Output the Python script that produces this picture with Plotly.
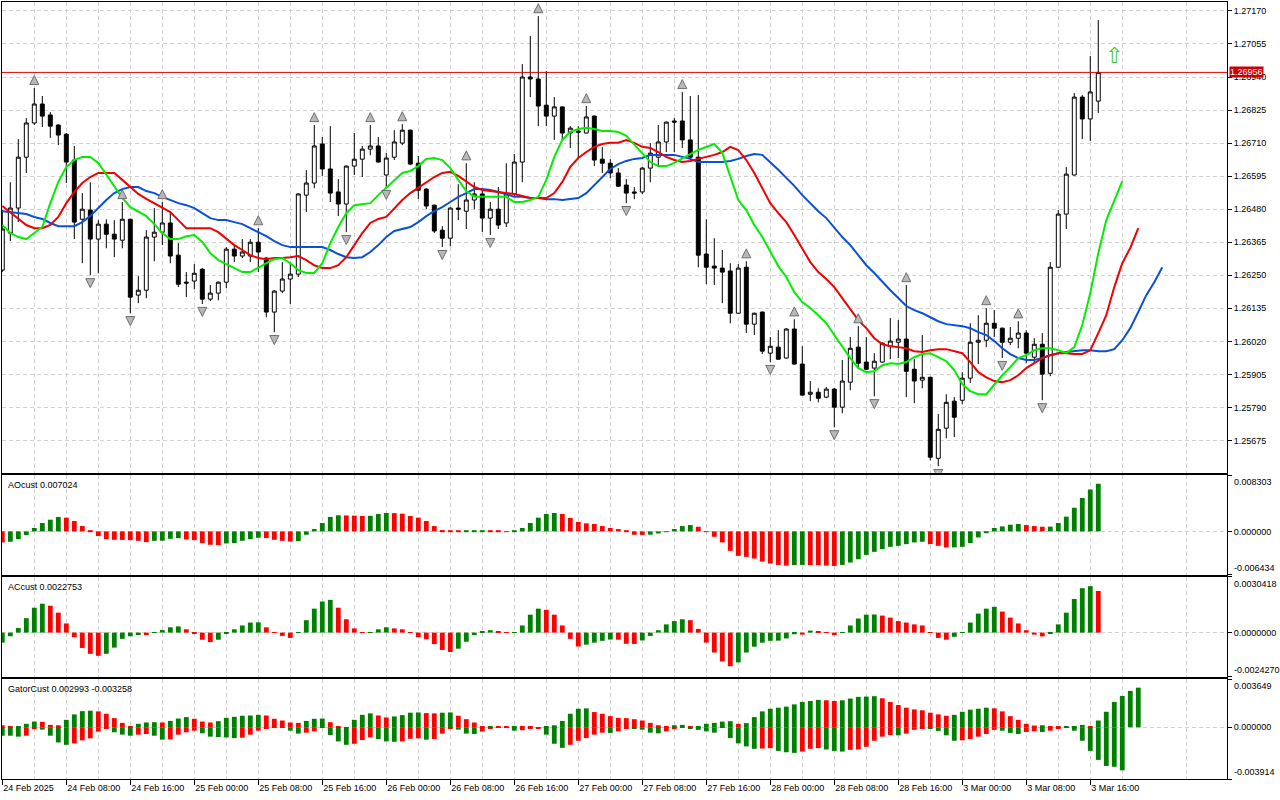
import numpy as np
import plotly.graph_objects as go
from plotly.subplots import make_subplots

# H1 bars, 24 Feb 2025 00:00 -> 3 Mar 2025 17:00 (bar index 0..137)
opens = [1.26268, 1.26397, 1.26484, 1.26661, 1.26780, 1.26846, 1.26808, 1.26773, 1.26741, 1.26651,
         1.26445, 1.26477, 1.26376, 1.26428, 1.26393, 1.26372, 1.26445, 1.26181, 1.26198, 1.26383,
         1.26400, 1.26432, 1.26320, 1.26226, 1.26230, 1.26271, 1.26167, 1.26188, 1.26226, 1.26341,
         1.26317, 1.26317, 1.26365, 1.26310, 1.26122, 1.26195, 1.26237, 1.26254, 1.26529, 1.26571,
         1.26707, 1.26620, 1.26540, 1.26498, 1.26630, 1.26654, 1.26689, 1.26700, 1.26599, 1.26661,
         1.26710, 1.26755, 1.26640, 1.26550, 1.26494, 1.26407, 1.26379, 1.26484, 1.26473, 1.26512,
         1.26533, 1.26449, 1.26480, 1.26432, 1.26533, 1.26644, 1.26940, 1.26933, 1.26842, 1.26804,
         1.26836, 1.26745, 1.26752, 1.26745, 1.26804, 1.26654, 1.26640, 1.26606, 1.26564, 1.26540,
         1.26540, 1.26623, 1.26661, 1.26714, 1.26787, 1.26787, 1.26721, 1.26661, 1.26324, 1.26282,
         1.26275, 1.26265, 1.26118, 1.26278, 1.26080, 1.26122, 1.25979, 1.26000, 1.25962, 1.26063,
         1.25941, 1.25836, 1.25843, 1.25826, 1.25854, 1.25791, 1.25878, 1.26000, 1.25948, 1.25927,
         1.25948, 1.26003, 1.26017, 1.26028, 1.25923, 1.25885, 1.25895, 1.25613, 1.25718, 1.25812,
         1.25815, 1.25892, 1.26017, 1.26024, 1.26083, 1.26066, 1.26017, 1.26031, 1.26049, 1.25965,
         1.26010, 1.25909, 1.26278, 1.26463, 1.26599, 1.26870, 1.26794, 1.26856]
highs = [1.26477, 1.26574, 1.26724, 1.26797, 1.26902, 1.26874, 1.26818, 1.26775, 1.26745, 1.26700,
         1.26536, 1.26574, 1.26442, 1.26445, 1.26442, 1.26505, 1.26447, 1.26247, 1.26407, 1.26484,
         1.26505, 1.26470, 1.26362, 1.26261, 1.26289, 1.26275, 1.26216, 1.26228, 1.26348, 1.26355,
         1.26376, 1.26376, 1.26414, 1.26313, 1.26198, 1.26296, 1.26296, 1.26535, 1.26616, 1.26773,
         1.26731, 1.26769, 1.26585, 1.26632, 1.26745, 1.26700, 1.26773, 1.26731, 1.26675, 1.26755,
         1.26776, 1.26757, 1.26665, 1.26552, 1.26496, 1.26421, 1.26486, 1.26567, 1.26640, 1.26574,
         1.26546, 1.26505, 1.26557, 1.26640, 1.26672, 1.26985, 1.27083, 1.27152, 1.26961, 1.26870,
         1.26838, 1.26769, 1.26769, 1.26839, 1.26806, 1.26696, 1.26654, 1.26623, 1.26585, 1.26557,
         1.26627, 1.26710, 1.26773, 1.26785, 1.26797, 1.26888, 1.26874, 1.26877, 1.26445, 1.26379,
         1.26338, 1.26292, 1.26289, 1.26299, 1.26120, 1.26124, 1.26035, 1.26059, 1.26066, 1.26097,
         1.26003, 1.25882, 1.25857, 1.25861, 1.25857, 1.25955, 1.26035, 1.26073, 1.26035, 1.25979,
         1.26016, 1.26101, 1.26094, 1.26216, 1.25958, 1.26042, 1.25897, 1.25767, 1.25836, 1.25826,
         1.25913, 1.26083, 1.26111, 1.26136, 1.26129, 1.26068, 1.26070, 1.26090, 1.26059, 1.26031,
         1.26049, 1.26296, 1.26477, 1.26627, 1.26884, 1.26877, 1.27013, 1.27138]
lows = [1.26261, 1.26369, 1.26435, 1.26606, 1.26773, 1.26766, 1.26728, 1.26703, 1.26571, 1.26376,
        1.26292, 1.26250, 1.26257, 1.26344, 1.26313, 1.26344, 1.26118, 1.26153, 1.26170, 1.26299,
        1.26355, 1.26292, 1.26209, 1.26174, 1.26202, 1.26150, 1.26160, 1.26163, 1.26205, 1.26296,
        1.26310, 1.26296, 1.26261, 1.26104, 1.26052, 1.26188, 1.26150, 1.26244, 1.26470, 1.26553,
        1.26595, 1.26505, 1.26456, 1.26400, 1.26599, 1.26592, 1.26668, 1.26642, 1.26557, 1.26651,
        1.26703, 1.26633, 1.26515, 1.26480, 1.26397, 1.26348, 1.26351, 1.26442, 1.26411, 1.26480,
        1.26400, 1.26390, 1.26411, 1.26418, 1.26522, 1.26574, 1.26870, 1.26769, 1.26769, 1.26721,
        1.26721, 1.26693, 1.26658, 1.26743, 1.26630, 1.26606, 1.26588, 1.26557, 1.26501, 1.26515,
        1.26533, 1.26574, 1.26627, 1.26679, 1.26679, 1.26693, 1.26651, 1.26278, 1.26219, 1.26216,
        1.26153, 1.26083, 1.26116, 1.26049, 1.26042, 1.25976, 1.25948, 1.25956, 1.25960, 1.25939,
        1.25831, 1.25812, 1.25808, 1.25822, 1.25721, 1.25770, 1.25850, 1.25927, 1.25921, 1.25829,
        1.25946, 1.25958, 1.25962, 1.25826, 1.25805, 1.25857, 1.25606, 1.25586, 1.25683, 1.25687,
        1.25801, 1.25875, 1.25941, 1.26000, 1.26035, 1.25962, 1.26007, 1.25996, 1.25944, 1.25941,
        1.25815, 1.25899, 1.26276, 1.26411, 1.26597, 1.26724, 1.26717, 1.26815]
closes = [1.26411, 1.26484, 1.26661, 1.26780, 1.26846, 1.26804, 1.26769, 1.26738, 1.26644, 1.26435,
          1.26480, 1.26376, 1.26428, 1.26393, 1.26376, 1.26445, 1.26174, 1.26198, 1.26383, 1.26400,
          1.26432, 1.26317, 1.26219, 1.26223, 1.26257, 1.26167, 1.26188, 1.26226, 1.26341, 1.26317,
          1.26331, 1.26365, 1.26331, 1.26122, 1.26195, 1.26237, 1.26254, 1.26533, 1.26571, 1.26700,
          1.26620, 1.26536, 1.26498, 1.26630, 1.26654, 1.26689, 1.26700, 1.26644, 1.26658, 1.26714,
          1.26755, 1.26637, 1.26546, 1.26491, 1.26404, 1.26379, 1.26484, 1.26480, 1.26512, 1.26533,
          1.26449, 1.26480, 1.26425, 1.26533, 1.26644, 1.26940, 1.26933, 1.26839, 1.26804, 1.26836,
          1.26745, 1.26762, 1.26748, 1.26801, 1.26651, 1.26640, 1.26606, 1.26560, 1.26536, 1.26536,
          1.26623, 1.26675, 1.26714, 1.26783, 1.26783, 1.26721, 1.26661, 1.26320, 1.26278, 1.26275,
          1.26261, 1.26118, 1.26275, 1.26080, 1.26118, 1.25986, 1.26003, 1.25958, 1.26063, 1.25941,
          1.25833, 1.25843, 1.25822, 1.25854, 1.25791, 1.25882, 1.25996, 1.25944, 1.25923, 1.25951,
          1.26014, 1.26021, 1.26028, 1.25916, 1.25882, 1.25895, 1.25617, 1.25714, 1.25808, 1.25756,
          1.25892, 1.26017, 1.26024, 1.26083, 1.26066, 1.26017, 1.26031, 1.26049, 1.25979, 1.26010,
          1.25906, 1.26278, 1.26463, 1.26602, 1.26870, 1.26794, 1.26888, 1.26956]

# Alligator lines (already shifted forward, so they run past the last bar)
lips = [1.26425, 1.26397, 1.26383, 1.26376, 1.26397, 1.26418, 1.26501, 1.26575, 1.26627, 1.26651,
        1.26662, 1.26662, 1.26641, 1.26599, 1.26557, 1.26519, 1.26487, 1.26470, 1.26456, 1.26428,
        1.26397, 1.26376, 1.26376, 1.26386, 1.26390, 1.26366, 1.26327, 1.26303, 1.26289, 1.26275,
        1.26261, 1.26261, 1.26278, 1.26292, 1.26306, 1.26310, 1.26292, 1.26268, 1.26258, 1.26258,
        1.26292, 1.26362, 1.26418, 1.26466, 1.26494, 1.26498, 1.26501, 1.26529, 1.26554, 1.26582,
        1.26606, 1.26613, 1.26630, 1.26655, 1.26658, 1.26651, 1.26623, 1.26582, 1.26543, 1.26523,
        1.26523, 1.26523, 1.26523, 1.26523, 1.26505, 1.26505, 1.26512, 1.26523, 1.26582, 1.26662,
        1.26721, 1.26749, 1.26759, 1.26763, 1.26759, 1.26752, 1.26752, 1.26749, 1.26735, 1.26704,
        1.26676, 1.26644, 1.26630, 1.26630, 1.26641, 1.26658, 1.26672, 1.26686, 1.26697, 1.26707,
        1.26676, 1.26592, 1.26512, 1.26477, 1.26425, 1.26383, 1.26331, 1.26282, 1.26244, 1.26191,
        1.26157, 1.26136, 1.26111, 1.26083, 1.26042, 1.26000, 1.25962, 1.25927, 1.25913, 1.25916,
        1.25937, 1.25944, 1.25941, 1.25948, 1.25965, 1.25976, 1.25979, 1.25965, 1.25951, 1.25920,
        1.25871, 1.25847, 1.25836, 1.25836, 1.25868, 1.25902, 1.25930, 1.25962, 1.25972, 1.25989,
        1.25996, 1.25996, 1.25989, 1.25979, 1.26000, 1.26077, 1.26188, 1.26327, 1.26442, 1.26512,
        1.26578]
teeth = [1.26491, 1.26470, 1.26449, 1.26425, 1.26414, 1.26414, 1.26425, 1.26453, 1.26501, 1.26540,
         1.26571, 1.26592, 1.26606, 1.26606, 1.26606, 1.26582, 1.26557, 1.26533, 1.26516, 1.26501,
         1.26487, 1.26470, 1.26442, 1.26414, 1.26414, 1.26414, 1.26414, 1.26400, 1.26376, 1.26355,
         1.26338, 1.26320, 1.26310, 1.26306, 1.26310, 1.26310, 1.26313, 1.26317, 1.26303, 1.26285,
         1.26275, 1.26275, 1.26285, 1.26313, 1.26355, 1.26397, 1.26432, 1.26446, 1.26453, 1.26484,
         1.26512, 1.26536, 1.26554, 1.26575, 1.26592, 1.26606, 1.26610, 1.26596, 1.26575, 1.26557,
         1.26547, 1.26543, 1.26540, 1.26536, 1.26533, 1.26526, 1.26519, 1.26519, 1.26519, 1.26536,
         1.26575, 1.26627, 1.26658, 1.26679, 1.26697, 1.26707, 1.26711, 1.26711, 1.26721, 1.26711,
         1.26697, 1.26693, 1.26679, 1.26662, 1.26651, 1.26644, 1.26648, 1.26655, 1.26662, 1.26669,
         1.26679, 1.26697, 1.26686, 1.26651, 1.26606, 1.26554, 1.26501, 1.26466, 1.26435, 1.26390,
         1.26345, 1.26296, 1.26261, 1.26237, 1.26209, 1.26171, 1.26129, 1.26094, 1.26066, 1.26031,
         1.26010, 1.26003, 1.26000, 1.25996, 1.25986, 1.25983, 1.25989, 1.25993, 1.25993, 1.25986,
         1.25979, 1.25948, 1.25913, 1.25895, 1.25882, 1.25878, 1.25885, 1.25902, 1.25927, 1.25944,
         1.25962, 1.25972, 1.25979, 1.25979, 1.25976, 1.25976, 1.25989, 1.26049, 1.26111, 1.26209,
         1.26292, 1.26345, 1.26414]
jaw = [1.26473, 1.26470, 1.26466, 1.26463, 1.26453, 1.26446, 1.26432, 1.26421, 1.26421, 1.26421,
       1.26435, 1.26456, 1.26484, 1.26512, 1.26536, 1.26550, 1.26557, 1.26557, 1.26543, 1.26536,
       1.26523, 1.26512, 1.26501, 1.26494, 1.26484, 1.26466, 1.26449, 1.26442, 1.26442, 1.26435,
       1.26428, 1.26414, 1.26400, 1.26386, 1.26369, 1.26355, 1.26348, 1.26348, 1.26348, 1.26348,
       1.26348, 1.26338, 1.26324, 1.26313, 1.26310, 1.26313, 1.26331, 1.26355, 1.26383, 1.26404,
       1.26411, 1.26418, 1.26435, 1.26456, 1.26473, 1.26487, 1.26505, 1.26523, 1.26536, 1.26550,
       1.26550, 1.26547, 1.26540, 1.26533, 1.26523, 1.26523, 1.26519, 1.26519, 1.26515, 1.26515,
       1.26512, 1.26515, 1.26519, 1.26536, 1.26564, 1.26592, 1.26620, 1.26637, 1.26648, 1.26655,
       1.26658, 1.26669, 1.26669, 1.26669, 1.26669, 1.26662, 1.26655, 1.26644, 1.26644, 1.26644,
       1.26644, 1.26648, 1.26655, 1.26665, 1.26672, 1.26669, 1.26644, 1.26617, 1.26589, 1.26561,
       1.26529, 1.26501, 1.26473, 1.26449, 1.26414, 1.26383, 1.26355, 1.26320, 1.26285, 1.26258,
       1.26226, 1.26198, 1.26171, 1.26143, 1.26129, 1.26118, 1.26104, 1.26090, 1.26080, 1.26077,
       1.26073, 1.26066, 1.26052, 1.26042, 1.26021, 1.25996, 1.25976, 1.25962, 1.25955, 1.25955,
       1.25962, 1.25972, 1.25979, 1.25983, 1.25986, 1.25989, 1.25989, 1.25986, 1.25986, 1.25993,
       1.26024, 1.26066, 1.26122, 1.26181, 1.26226, 1.26278]

fractal_up = [4, 15, 20, 32, 39, 46, 50, 58, 67, 73, 85, 93, 99, 107, 113, 123, 127]
fractal_down = [11, 16, 25, 34, 43, 48, 55, 61, 78, 96, 104, 109, 117, 125, 130]

ao_values = [-0.00163, -0.00153, -0.00114, -0.00054, 0.00050, 0.00124, 0.00173, 0.00213, 0.00203, 0.00153,
             0.00079, 0.00010, -0.00069, -0.00114, -0.00124, -0.00126, -0.00129, -0.00139, -0.00158, -0.00139,
             -0.00138, -0.00109, -0.00099, -0.00119, -0.00129, -0.00173, -0.00198, -0.00203, -0.00178, -0.00173,
             -0.00139, -0.00114, -0.00094, -0.00099, -0.00124, -0.00139, -0.00149, -0.00144, -0.00050, 0.00035,
             0.00124, 0.00213, 0.00238, 0.00236, 0.00233, 0.00228, 0.00230, 0.00257, 0.00272, 0.00270,
             0.00262, 0.00228, 0.00203, 0.00153, 0.00079, 0.00020, 0.00010, 0.00005, 0.00007, 0.00008,
             0.00009, 0.00007, 0.00005, 0.00003, 0.00010, 0.00050, 0.00124, 0.00203, 0.00257, 0.00272,
             0.00257, 0.00200, 0.00140, 0.00119, 0.00109, 0.00079, 0.00050, 0.00035, 0.00010, -0.00050,
             -0.00052, -0.00048, -0.00030, -0.00005, 0.00035, 0.00079, 0.00094, 0.00069, -0.00005, -0.00079,
             -0.00163, -0.00287, -0.00361, -0.00376, -0.00401, -0.00446, -0.00475, -0.00495, -0.00505, -0.00497,
             -0.00495, -0.00497, -0.00500, -0.00505, -0.00510, -0.00495, -0.00460, -0.00411, -0.00347, -0.00302,
             -0.00262, -0.00228, -0.00213, -0.00188, -0.00163, -0.00153, -0.00188, -0.00213, -0.00238, -0.00236,
             -0.00228, -0.00173, -0.00089, -0.00025, 0.00050, 0.00074, 0.00099, 0.00109, 0.00094, 0.00079,
             0.00069, 0.00070, 0.00124, 0.00218, 0.00351, 0.00495, 0.00619, 0.007024]
ao_colors = ("R GGGGGGG RRRRRRRRRRR GGGG RRRRR GGGGG RRRR GGGGGG RRR GGG RRRRRRRRR GGG RRR GGGGGG "
             "RRRRRRRRRRR GGGGGG RRRRRRRRRRRR GG RRRR GGGGGGGGGGG RRR GGGGGGGGG RRR GGGGGGG").replace(" ", "")

ac_values = [-0.00055, -0.00020, 0.00025, 0.00079, 0.00136, 0.00158, 0.00147, 0.00109, 0.00050, -0.00025,
             -0.00084, -0.00116, -0.00127, -0.00116, -0.00082, -0.00034, -0.00020, -0.00013, -0.00014, 0.00002,
             0.00014, 0.00029, 0.00034, 0.00018, -0.00007, -0.00039, -0.00052, -0.00039, -0.00007, 0.00018,
             0.00039, 0.00055, 0.00056, 0.00029, 0.00002, -0.00018, -0.00029, -0.00002, 0.00068, 0.00131,
             0.00170, 0.00179, 0.00136, 0.00073, 0.00023, 0.00001, 0.00003, 0.00018, 0.00029, 0.00023,
             0.00018, 0.00001, -0.00025, -0.00036, -0.00063, -0.00095, -0.00106, -0.00088, -0.00050, -0.00014,
             0.00007, 0.00013, 0.00004, 0.00001, 0.00003, 0.00039, 0.00098, 0.00131, 0.00125, 0.00098,
             0.00039, -0.00034, -0.00076, -0.00066, -0.00055, -0.00045, -0.00038, -0.00039, -0.00061, -0.00062,
             -0.00043, -0.00018, 0.00013, 0.00045, 0.00063, 0.00073, 0.00068, 0.00020, -0.00055, -0.00109,
             -0.00158, -0.00184, -0.00163, -0.00109, -0.00077, -0.00055, -0.00045, -0.00044, -0.00032, -0.00009,
             -0.00011, 0.00011, 0.00005, 0.00001, -0.00014, -0.00002, 0.00039, 0.00077, 0.00098, 0.00099,
             0.00093, 0.00082, 0.00063, 0.00055, 0.00045, 0.00039, -0.00002, -0.00029, -0.00039, -0.00023,
             0.00001, 0.00055, 0.00104, 0.00131, 0.00141, 0.00115, 0.00082, 0.00050, 0.00013, -0.00011,
             -0.00021, -0.00007, 0.00045, 0.00109, 0.00184, 0.00243, 0.00254, 0.0022753]
ac_colors = ("GGGGGG RRRRRRR GGGGG R GGGG RRRR GGGGGG RRRR GGGGG RRRR GGG RRRRRRRR GGGGG RR GGGG RRRRR "
             "GGGG RRR GGGGGG RRRRRR GGGGGGGG R G RRR GGGGG RRRRRRRRR GGGGGG RRRRRR GGGGGG R").replace(" ", "")

gator_upper = [0.00015, 0.00003, 0.00008, 0.00026, 0.00043, 0.00041, 0.00018, 0.00015, 0.00056, 0.00097,
               0.00122, 0.00125, 0.00120, 0.00102, 0.00069, 0.00033, 0.00005, 0.00026, 0.00036, 0.00038,
               0.00036, 0.00048, 0.00066, 0.00077, 0.00064, 0.00043, 0.00036, 0.00046, 0.00071, 0.00079,
               0.00087, 0.00089, 0.00094, 0.00089, 0.00064, 0.00051, 0.00036, 0.00033, 0.00048, 0.00064,
               0.00066, 0.00038, 0.00003, 0.00001, 0.00056, 0.00094, 0.00105, 0.00089, 0.00074, 0.00082,
               0.00092, 0.00110, 0.00112, 0.00107, 0.00105, 0.00110, 0.00112, 0.00087, 0.00061, 0.00036,
               0.00003, 0.00010, 0.00008, 0.00005, 0.00006, 0.00003, 0.00002, 0.00001, 0.00003, 0.00015,
               0.00048, 0.00102, 0.00140, 0.00143, 0.00115, 0.00102, 0.00084, 0.00071, 0.00069, 0.00061,
               0.00051, 0.00033, 0.00015, 0.00003, 0.00015, 0.00018, 0.00008, 0.00010, 0.00026, 0.00033,
               0.00043, 0.00046, 0.00026, 0.00031, 0.00077, 0.00120, 0.00140, 0.00148, 0.00156, 0.00173,
               0.00191, 0.00199, 0.00207, 0.00204, 0.00199, 0.00204, 0.00217, 0.00230, 0.00232, 0.00235,
               0.00219, 0.00191, 0.00168, 0.00148, 0.00135, 0.00128, 0.00110, 0.00097, 0.00087, 0.00094,
               0.00117, 0.00133, 0.00140, 0.00148, 0.00143, 0.00120, 0.00084, 0.00056, 0.00026, 0.00013,
               0.00015, 0.00003, 0.00002, 0.00003, 0.00005, 0.00018, 0.00003, 0.00051, 0.00117, 0.00191,
               0.00237, 0.00275, 0.002993]
gator_upper_colors = ("RR GGG RRR GGGG RRRRR GGG R GGG RRR GGGGGG RRRRR GGG RRR GGG RR GGGG RR GG RRRR G RR G "
                      "RRR GGGGGG RRRRRRRRRR GG R GGGGG R GGGGGGGGGG RR GGGGG RRRRRRRRR GGGGG RRRRRR G RR "
                      "GGG R GGGGGG").replace(" ", "")
gator_lower = [-0.00064, -0.00064, -0.00071, -0.00064, -0.00015, -0.00018, -0.00064, -0.00115, -0.00133, -0.00122,
               -0.00099, -0.00084, -0.00033, -0.00010, -0.00038, -0.00056, -0.00064, -0.00056, -0.00051, -0.00064,
               -0.00094, -0.00092, -0.00056, -0.00038, -0.00026, -0.00046, -0.00071, -0.00074, -0.00077, -0.00082,
               -0.00079, -0.00056, -0.00026, -0.00010, -0.00003, -0.00005, -0.00026, -0.00048, -0.00041, -0.00031,
               -0.00005, -0.00059, -0.00107, -0.00133, -0.00125, -0.00097, -0.00077, -0.00089, -0.00107, -0.00110,
               -0.00107, -0.00087, -0.00084, -0.00094, -0.00089, -0.00048, -0.00010, -0.00018, -0.00048, -0.00051,
               -0.00033, -0.00008, -0.00005, -0.00003, -0.00026, -0.00023, -0.00010, -0.00008, -0.00056, -0.00125,
               -0.00156, -0.00133, -0.00102, -0.00082, -0.00056, -0.00041, -0.00043, -0.00031, -0.00008, -0.00013,
               -0.00018, -0.00041, -0.00046, -0.00031, -0.00015, -0.00005, -0.00010, -0.00020, -0.00031, -0.00041,
               -0.00003, -0.00082, -0.00122, -0.00145, -0.00163, -0.00161, -0.00158, -0.00179, -0.00189, -0.00194,
               -0.00184, -0.00163, -0.00158, -0.00168, -0.00179, -0.00184, -0.00171, -0.00168, -0.00148, -0.00102,
               -0.00071, -0.00059, -0.00061, -0.00048, -0.00020, -0.00008, -0.00010, -0.00028, -0.00061, -0.00102,
               -0.00099, -0.00089, -0.00071, -0.00051, -0.00020, -0.00026, -0.00043, -0.00051, -0.00036, -0.00031,
               -0.00036, -0.00026, -0.00013, -0.00005, -0.00026, -0.00102, -0.00179, -0.00247, -0.00293, -0.00299,
               -0.003258]
gator_lower_colors = ("GGG RR GGGG RRRRR GGG RR GG RRRR GGGGG RRRRR GGG RRR GGG RRR GGG RRR G RRR GGG RRRR G RRR "
                      "GGG RRRRR G RR GGGG RRR GGGG R GGGG RR GGG RRR GGG RRRRRR G RRR GGGG RRRRR GGG RR G RRR "
                      "GGGGGGG").replace(" ", "")

time_labels = ["24 Feb 2025", "24 Feb 08:00", "24 Feb 16:00", "25 Feb 00:00", "25 Feb 08:00", "25 Feb 16:00",
               "26 Feb 00:00", "26 Feb 08:00", "26 Feb 16:00", "27 Feb 00:00", "27 Feb 08:00", "27 Feb 16:00",
               "28 Feb 00:00", "28 Feb 08:00", "28 Feb 16:00", "3 Mar 00:00", "3 Mar 08:00", "3 Mar 16:00"]
time_label_bars = [0, 8, 16, 24, 32, 40, 48, 56, 64, 72, 80, 88, 96, 104, 112, 120, 128, 136]
grid_bars = [4, 12, 20, 28, 36, 44, 52, 60, 68, 76, 84, 92, 100, 108, 116, 124, 132, 140, 148]

price_ticks = [1.27170, 1.27055, 1.26940, 1.26825, 1.26710, 1.26595, 1.26480,
               1.26365, 1.26250, 1.26135, 1.26020, 1.25905, 1.25790, 1.25675]
price_range = [1.25563, 1.27201]
last_price = 1.26956
signal_bar = 139
signal_price = 1.27014

ao_range = [-0.006434, 0.008303]
ac_range = [-0.0024270, 0.0030418]
gator_range = [-0.003914, 0.003649]

for name, arr, n in [("highs", highs, len(opens)), ("lows", lows, len(opens)), ("closes", closes, len(opens)),
                     ("ao", ao_values, len(opens)), ("aoc", ao_colors, len(opens)),
                     ("ac", ac_values, len(opens)), ("acc", ac_colors, len(opens)),
                     ("gu", gator_upper_colors, len(gator_upper)), ("gl", gator_lower_colors, len(gator_lower))]:
    assert len(arr) == n, (name, len(arr), n)

GREEN = "#008000"
RED = "#ff0000"
GRID = "#d2d2d2"
FONT = "Liberation Sans"


def bar_colors(codes):
    return [GREEN if c == "G" else RED for c in codes]


bars = np.arange(len(opens))

fig = make_subplots(rows=4, cols=1, shared_xaxes=True, vertical_spacing=0.0)

fig.add_trace(go.Candlestick(
    x=bars, open=opens, high=highs, low=lows, close=closes,
    increasing=dict(fillcolor="white", line=dict(color="black", width=1)),
    decreasing=dict(fillcolor="black", line=dict(color="black", width=1)),
    whiskerwidth=0, showlegend=False, hoverinfo="skip"), row=1, col=1)

for vals, col in [(jaw, "#0a50d8"), (teeth, "#f00000"), (lips, "#00ee00")]:
    fig.add_trace(go.Scatter(x=np.arange(len(vals)), y=vals, mode="lines",
                             line=dict(color=col, width=2), showlegend=False, hoverinfo="skip"),
                  row=1, col=1)

# fractal arrows sit a few pixels beyond the bar extreme
arrow_gap = 0.00043
fig.add_trace(go.Scatter(
    x=fractal_up, y=[highs[i] + arrow_gap for i in fractal_up], mode="markers",
    marker=dict(symbol="arrow-up", size=9, color="#b8b8b8", line=dict(color="#6e6e6e", width=1)),
    showlegend=False, hoverinfo="skip"), row=1, col=1)
fig.add_trace(go.Scatter(
    x=fractal_down, y=[lows[i] - arrow_gap for i in fractal_down], mode="markers",
    marker=dict(symbol="arrow-down", size=9, color="#b8b8b8", line=dict(color="#6e6e6e", width=1)),
    showlegend=False, hoverinfo="skip"), row=1, col=1)

fig.add_trace(go.Bar(x=bars, y=ao_values, width=0.6, marker=dict(color=bar_colors(ao_colors), line_width=0),
                     showlegend=False, hoverinfo="skip"), row=2, col=1)
fig.add_trace(go.Bar(x=bars, y=ac_values, width=0.6, marker=dict(color=bar_colors(ac_colors), line_width=0),
                     showlegend=False, hoverinfo="skip"), row=3, col=1)
fig.add_trace(go.Bar(x=np.arange(len(gator_upper)), y=gator_upper, width=0.6,
                     marker=dict(color=bar_colors(gator_upper_colors), line_width=0),
                     showlegend=False, hoverinfo="skip"), row=4, col=1)
fig.add_trace(go.Bar(x=np.arange(len(gator_lower)), y=gator_lower, width=0.6,
                     marker=dict(color=bar_colors(gator_lower_colors), line_width=0),
                     showlegend=False, hoverinfo="skip"), row=4, col=1)

# last price line
fig.add_shape(type="line", xref="x domain", x0=0, x1=1, yref="y", y0=last_price, y1=last_price,
              line=dict(color="#e00000", width=1))

fig.update_xaxes(range=[-0.0375, 153.09], showline=True, mirror=True, linecolor="black", linewidth=1,
                 tickmode="array", tickvals=time_label_bars, ticktext=time_labels,
                 showgrid=True, gridcolor=GRID, griddash="4px,3px", gridwidth=1, zeroline=False,
                 minor=dict(tickvals=grid_bars, showgrid=True, gridcolor=GRID, griddash="4px,3px", ticks=""),
                 ticks="", fixedrange=True, rangeslider_visible=False)
fig.update_xaxes(ticks="outside", ticklen=5, tickcolor="black", ticklabelposition="outside right",
                 tickfont=dict(family=FONT, size=9, color="black"), row=4, col=1)

fig.update_yaxes(side="right", showline=True, mirror=True, linecolor="black", linewidth=1,
                 ticks="outside", ticklen=4, tickcolor="black", zeroline=False, fixedrange=True,
                 showgrid=True, gridcolor=GRID, griddash="4px,3px",
                 tickfont=dict(family=FONT, size=9, color="black"))
fig.update_yaxes(range=price_range, tickvals=price_ticks, ticktext=[f"{v:.5f}" for v in price_ticks],
                 row=1, col=1)
panel_axes = [(2, ao_range, "0.000000"), (3, ac_range, "0.0000000"), (4, gator_range, "0.000000")]
for row, rng, zero_txt in panel_axes:
    fig.update_yaxes(range=rng, tickvals=[rng[1], 0, rng[0]], ticktext=["", zero_txt, ""], row=row, col=1)

domains = {"yaxis": [0.3942, 1.0], "yaxis2": [0.2626, 0.3910],
           "yaxis3": [0.1313, 0.2600], "yaxis4": [0.0, 0.1287]}
fig.update_layout(**{k: dict(domain=v) for k, v in domains.items()})

annotations = []
# range labels of the indicator windows
edge_fmt = {2: "{:.6f}", 3: "{:.7f}", 4: "{:.6f}"}
for row, rng, _ in panel_axes:
    yref = "y" + str(row)
    for val, anchor in [(rng[1], "top"), (rng[0], "bottom")]:
        annotations.append(dict(x=1, xref="paper", xanchor="left", xshift=5, y=val, yref=yref,
                                yanchor=anchor, text=edge_fmt[row].format(val), showarrow=False,
                                font=dict(family=FONT, size=9, color="black")))
# indicator names
names = [("AOcust 0.007024", domains["yaxis2"][1]), ("ACcust 0.0022753", domains["yaxis3"][1]),
         ("GatorCust 0.002993 -0.003258", domains["yaxis4"][1])]
for txt, top in names:
    annotations.append(dict(x=0, xref="paper", xanchor="left", xshift=4, y=top, yref="paper",
                            yanchor="top", yshift=-3, text=txt, showarrow=False,
                            font=dict(family=FONT, size=9, color="black")))
# last price tag
annotations.append(dict(x=1, xref="paper", xanchor="left", xshift=2, y=last_price, yref="y",
                        text=f"{last_price:.5f}", showarrow=False, bgcolor="#cc0000", borderpad=0,
                        font=dict(family=FONT, size=9, color="white")))
# signal arrow
annotations.append(dict(x=signal_bar, xref="x", y=signal_price, yref="y", text="\u21e7", showarrow=False,
                        font=dict(family="DejaVu Sans", size=22, color="#3cc83c")))

fig.update_layout(
    width=1280, height=800,
    margin=dict(l=2, r=53, t=2, b=21),
    paper_bgcolor="white", plot_bgcolor="white",
    barmode="overlay", showlegend=False,
    annotations=annotations,
    font=dict(family=FONT, size=9, color="black"),
)

fig.write_html("out.html", config={"displayModeBar": False},
               post_script="document.body.style.margin='0px';")
